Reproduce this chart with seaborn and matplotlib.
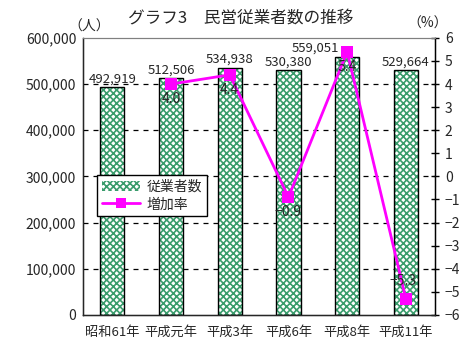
import numpy as np
import pandas as pd
import matplotlib
matplotlib.use('Agg')
import matplotlib.pyplot as plt
import seaborn as sns
from matplotlib.patches import Rectangle
from matplotlib.lines import Line2D

years      = ['昭和61年', '平成元年', '平成3年', '平成6年', '平成8年', '平成11年']
workers    = [492919, 512506, 534938, 530380, 559051, 529664]
rate_years = ['平成元年', '平成3年', '平成6年', '平成8年', '平成11年']
rate       = [4.0, 4.4, -0.9, 5.4, -5.3]

sns.set_style('white')
plt.rcParams['font.family'] = ['Noto Sans CJK JP', 'DejaVu Sans']
plt.rcParams['hatch.linewidth'] = 1.2

df = pd.DataFrame({'year': years, 'workers': workers})

fig = plt.figure(figsize=(4.72, 3.51), dpi=100)
ax = fig.add_axes([0.176, 0.103, 0.746, 0.789])

sns.barplot(data=df, x='year', y='workers', color='white', width=0.41,
            ax=ax, zorder=2)
green = '#3a9c6c'
ymax = max(workers)
for p in ax.patches:
    p.set_hatch('xxxxx')
    p.set_edgecolor(green)
    p.set_linewidth(0)
    ax.add_patch(Rectangle(p.get_xy(), p.get_width(), p.get_height(),
                           fill=False, edgecolor='black', lw=1.0, zorder=3))
    xc = p.get_x() + p.get_width() / 2
    # the tallest bar's label is pushed left by the marker, as in Excel
    if p.get_height() == ymax:
        xc -= 0.55
    ax.text(xc, p.get_height() + 4000,
            f'{int(p.get_height()):,}', ha='center', va='bottom', fontsize=9.5)

ax.set_ylim(0, 600000)
ax.set_xlim(-0.5, 5.5)
ax.set_yticks(range(0, 600001, 100000))
ax.set_yticklabels([f'{v:,}' for v in range(0, 600001, 100000)], fontsize=10)
ax.set_xlabel('')
ax.set_ylabel('')
ax.set_xticks(range(6))
ax.set_xticklabels(years, fontsize=9.5)
ax.tick_params(axis='x', length=0, pad=8)
ax.tick_params(axis='y', length=0, pad=5)
for v in range(100000, 600000, 100000):
    ax.axhline(v, color='black', lw=0.9, ls=(0, (4, 4)), zorder=1)
# minor ticks between categories
ax.set_xticks(np.arange(0.5, 5.5, 1), minor=True)
ax.tick_params(axis='x', which='minor', direction='in', length=3, color='black')
for s in ['left', 'bottom', 'right']:
    ax.spines[s].set_color('black')
    ax.spines[s].set_linewidth(1.0)
ax.spines['top'].set_color('#808080')

ax2 = ax.twinx()
rdf = pd.DataFrame({'x': [years.index(y) for y in rate_years], 'rate': rate})
sns.lineplot(data=rdf, x='x', y='rate', ax=ax2, color='#ff00ff', lw=2,
             marker='s', markersize=9, markeredgewidth=0, zorder=4)
for xv, yv in zip(rdf['x'], rdf['rate']):
    txt = f'{yv:.1f}'.replace('-', '−')
    if yv < -5:
        ax2.text(xv - 0.05, yv + 0.45, txt, ha='center', va='bottom',
                 fontsize=10, zorder=5)
    else:
        ax2.text(xv, yv - 0.35, txt, ha='center', va='top',
                 fontsize=10, zorder=5)
ax2.set_ylim(-6, 6)
ax2.set_yticks(range(-6, 7))
ax2.set_yticklabels([str(v).replace('-', '−') for v in range(-6, 7)], fontsize=10)
ax2.set_ylabel('')
ax2.set_xlabel('')
ax2.tick_params(axis='y', direction='inout', length=6, width=1, color='black', pad=4)
ax2.spines['right'].set_color('black')
ax2.spines['top'].set_color('#808080')
ax2.set_xlim(-0.5, 5.5)

handles = [Rectangle((0, 0), 1, 1, facecolor='white', hatch='xxxxx',
                     edgecolor=green, lw=0),
           Line2D([], [], color='#ff00ff', lw=2, marker='s', markersize=7,
                  markeredgewidth=0)]
leg = ax2.legend(handles, ['従業者数', '増加率'], loc='upper left',
                 bbox_to_anchor=(0.04, 0.505), fontsize=10, frameon=True,
                 fancybox=False, edgecolor='black', framealpha=1,
                 borderpad=0.35, handlelength=2.7, handletextpad=0.5,
                 labelspacing=0.25, borderaxespad=0)
leg.get_frame().set_linewidth(1.0)

fig.text(0.51, 0.948, 'グラフ3　民営従業者数の推移', ha='center', va='center', fontsize=12)
fig.text(0.19, 0.903, '（人）', ha='center', va='bottom', fontsize=10)
fig.text(0.905, 0.912, '（%）', ha='center', va='bottom', fontsize=10)

fig.savefig('out.png', dpi=100)
